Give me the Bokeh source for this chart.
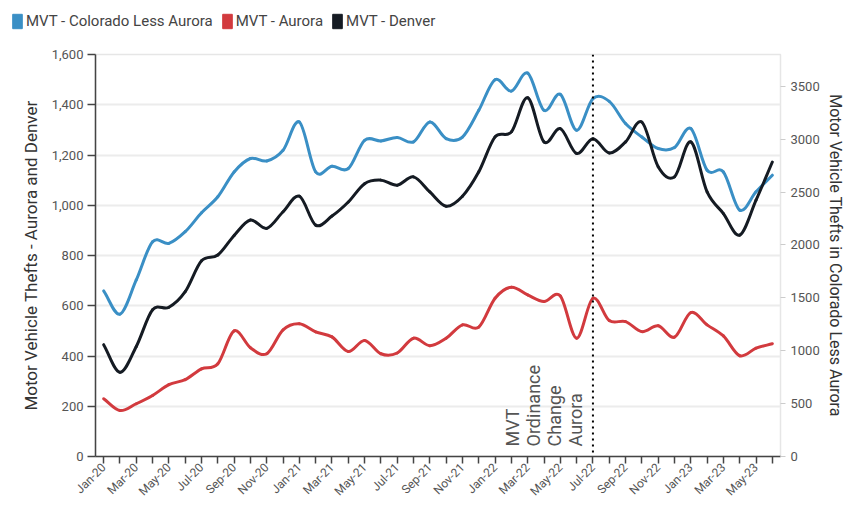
import math
from bokeh.plotting import figure
from bokeh.layouts import column, row
from bokeh.models import (Range1d, LinearAxis, FixedTicker, NumeralTickFormatter,
                          Span, Legend, LegendItem)
from bokeh.core.properties import value
from bokeh.embed import file_html
from bokeh.resources import INLINE

months = ["Jan-20", "Feb-20", "Mar-20", "Apr-20", "May-20", "Jun-20", "Jul-20", "Aug-20",
          "Sep-20", "Oct-20", "Nov-20", "Dec-20", "Jan-21", "Feb-21", "Mar-21", "Apr-21",
          "May-21", "Jun-21", "Jul-21", "Aug-21", "Sep-21", "Oct-21", "Nov-21", "Dec-21",
          "Jan-22", "Feb-22", "Mar-22", "Apr-22", "May-22", "Jun-22", "Jul-22", "Aug-22",
          "Sep-22", "Oct-22", "Nov-22", "Dec-22", "Jan-23", "Feb-23", "Mar-23", "Apr-23",
          "May-23", "Jun-23"]

colorado_less_aurora = [1565, 1346, 1669, 2030, 2015, 2125, 2304, 2455, 2690, 2817,
                        2794, 2895, 3162, 2690, 2744, 2722, 2989, 2983, 3015, 2974,
                        3162, 3005, 3020, 3272, 3562, 3454, 3624, 3272, 3423, 3084,
                        3383, 3357, 3147, 3020, 2911, 2920, 3100, 2706, 2690, 2329,
                        2502, 2659]
aurora = [230, 183, 210, 243, 286, 306, 349, 369, 500, 433, 409, 504, 528, 496, 476,
          418, 462, 409, 412, 471, 441, 471, 524, 515, 630, 674, 643, 617, 639, 471,
          630, 541, 537, 497, 520, 475, 573, 524, 480, 401, 431, 449]
denver = [445, 335, 438, 584, 594, 656, 779, 802, 880, 941, 908, 974, 1036, 921, 957,
          1013, 1086, 1100, 1080, 1113, 1053, 996, 1036, 1133, 1272, 1292, 1428, 1252,
          1305, 1206, 1265, 1208, 1252, 1331, 1153, 1113, 1252, 1053, 967, 881, 1020, 1172]

series_names = ["MVT - Colorado Less Aurora", "MVT - Aurora", "MVT - Denver"]
series_colors = ["#3a8fc5", "#d23a3e", "#151b23"]
left_ticks = [0, 200, 400, 600, 800, 1000, 1200, 1400, 1600]
right_ticks = [0, 500, 1000, 1500, 2000, 2500, 3000, 3500]
left_title = "Motor Vehicle Thefts - Aurora and Denver"
right_title = "Motor Vehicle Thefts in Colorado Less Aurora"
event_month = "Jul-22"
event_label = "MVT\nOrdinance\nChange\nAurora"

FONT = "Roboto"
W, H_LEG, H_MAIN = 847, 36, 470

# ---------- legend strip ----------
lf = figure(width=W, height=H_LEG, output_backend="svg", toolbar_location=None,
            x_range=Range1d(0, 1), y_range=Range1d(0, 1),
            x_axis_location=None, y_axis_location=None,
            min_border_left=0, min_border_right=0, min_border_top=0, min_border_bottom=0)
lf.outline_line_color = None
lf.grid.grid_line_color = None
lf.background_fill_color = "white"
lf.border_fill_color = "white"

legend_items = []
for name, color in zip(series_names, series_colors):
    # swatch glyph kept outside the visible range: only its legend entry shows
    dummy = lf.quad(left=[5], right=[6], top=[6], bottom=[5], fill_color=color,
                    line_color=color)
    legend_items.append(LegendItem(label=name, renderers=[dummy]))
legend = Legend(items=legend_items, orientation="horizontal", location=(11, 6),
                padding=0, margin=0, spacing=8, glyph_width=12, glyph_height=18,
                label_standoff=3, border_line_alpha=0, background_fill_alpha=0,
                label_text_font=FONT, label_text_font_size="15px",
                label_text_color="#444444")
lf.add_layout(legend)

# ---------- main chart ----------
p = figure(width=W, height=H_MAIN, output_backend="svg", toolbar_location=None,
           x_range=Range1d(-0.5, len(months) - 0.5), y_range=Range1d(0, 1600),
           min_border_left=95, min_border_right=67, min_border_top=18, min_border_bottom=49)
p.extra_y_ranges = {"right": Range1d(0, 3800)}

p.background_fill_color = "white"
p.border_fill_color = "white"
p.outline_line_color = "#e6e6e6"
p.outline_line_width = 1.5

p.xgrid.grid_line_color = None
p.ygrid.ticker = FixedTicker(ticks=left_ticks)
p.ygrid.grid_line_color = "#ececec"
p.ygrid.grid_line_width = 2

ly = p.yaxis[0]
ly.ticker = FixedTicker(ticks=left_ticks)
ly.formatter = NumeralTickFormatter(format="0,0")
ly.axis_label = left_title
ly.axis_line_color = "#444444"
ly.axis_line_width = 1.5
ly.major_tick_line_color = "#444444"
ly.major_tick_line_width = 1.5
ly.major_tick_out = 8
ly.major_tick_in = 0
ly.major_label_standoff = 4
ly.axis_label_standoff = 8
ly.minor_tick_line_color = None

# right axis with tick labels and its title
ry = LinearAxis(y_range_name="right", ticker=FixedTicker(ticks=right_ticks),
                axis_label=right_title)
ry.axis_line_color = None
ry.major_tick_line_color = "#cccccc"
ry.major_tick_out = 5
ry.major_tick_in = 0
ry.major_label_standoff = 5
ry.axis_label_standoff = 3
ry.minor_tick_line_color = None
p.add_layout(ry, "right")

bx = p.xaxis[0]
bx.ticker = FixedTicker(ticks=list(range(len(months))))
bx.major_label_overrides = {i: (m if i % 2 == 0 else "") for i, m in enumerate(months)}
bx.major_label_orientation = math.pi / 4
bx.axis_line_color = "#444444"
bx.axis_line_width = 1.5
bx.major_tick_line_color = "#444444"
bx.major_tick_line_width = 1.5
bx.major_tick_out = 7
bx.major_tick_in = 0
bx.major_label_standoff = 2
bx.minor_tick_line_color = None

for ax in (ly, ry, bx):
    ax.major_label_text_font = FONT
    ax.major_label_text_font_size = "13px"
    ax.major_label_text_color = "#555555"
    ax.axis_label_text_font = FONT
    ax.axis_label_text_font_size = "17px"
    ax.axis_label_text_font_style = "normal"
    ax.axis_label_text_color = "#333333"
bx.major_label_text_font_size = "12px"
ry.axis_label_text_font_size = "16px"

def bezier_segments(ys):
    n = len(ys)
    m = []
    for i in range(n):
        if i == 0:
            m.append(ys[1] - ys[0])
        elif i == n - 1:
            m.append(ys[n - 1] - ys[n - 2])
        else:
            m.append((ys[i + 1] - ys[i - 1]) / 2.0)
    d = dict(x0=[], y0=[], x1=[], y1=[], cx0=[], cy0=[], cx1=[], cy1=[])
    for i in range(n - 1):
        d["x0"].append(i); d["y0"].append(ys[i])
        d["x1"].append(i + 1); d["y1"].append(ys[i + 1])
        d["cx0"].append(i + 1 / 3); d["cy0"].append(ys[i] + m[i] / 3)
        d["cx1"].append(i + 1 - 1 / 3); d["cy1"].append(ys[i + 1] - m[i + 1] / 3)
    return d

series = [(colorado_less_aurora, "right"), (aurora, "default"), (denver, "default")]
for (ys, rng), color in zip(series, series_colors):
    seg = bezier_segments(ys)
    p.bezier(source=seg, x0="x0", y0="y0", x1="x1", y1="y1", cx0="cx0", cy0="cy0",
             cx1="cx1", cy1="cy1", line_color=color, line_width=3, line_cap="round",
             y_range_name=rng)

event_idx = months.index(event_month)
p.add_layout(Span(location=event_idx, dimension="height", line_color="black",
                  line_width=2, line_dash="dotted"))
p.text(x=[event_idx - 0.42], y=[40], text=[event_label], angle=math.pi / 2,
       text_align="left", text_baseline="bottom", text_font=value(FONT),
       text_font_size="18px", text_color="#555555", text_line_height=1.0)

layout = column(row(lf), p, spacing=0)
open("out.html", "w").write(file_html(layout, INLINE))
